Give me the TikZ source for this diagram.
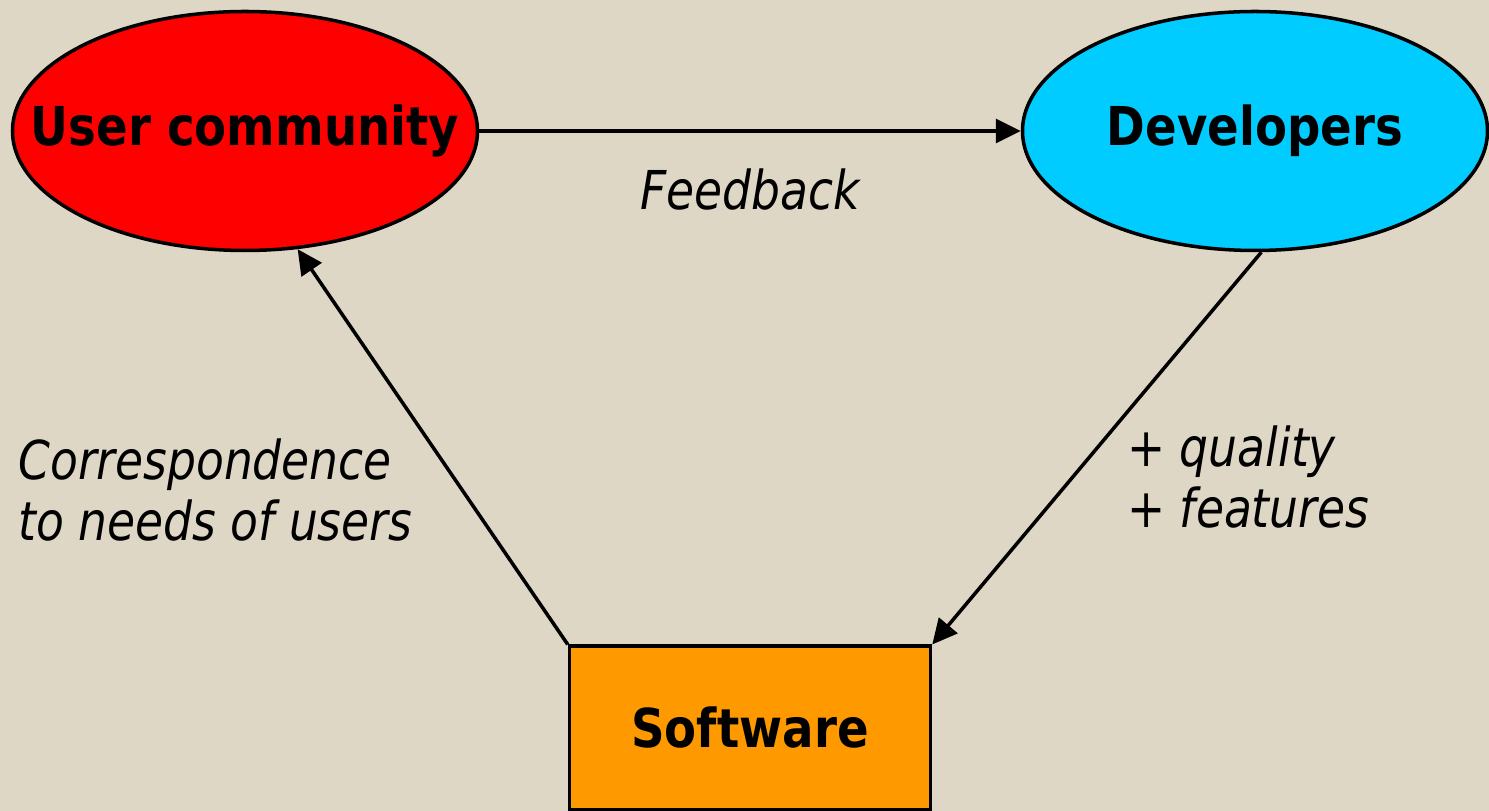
\documentclass[tikz,border=0pt]{standalone}
\usepackage{fontspec}
\setmainfont{DejaVu Sans}[
  FakeStretch=0.83,
  BoldFeatures={FakeStretch=0.87},
  ItalicFeatures={FakeStretch=0.85}]
\usepackage{tikz}
\usetikzlibrary{shapes.geometric,arrows.meta,positioning}

\definecolor{bgbeige}{HTML}{DFD7C6}
\definecolor{usersred}{HTML}{FF0000}
\definecolor{devscyan}{HTML}{00CCFF}
\definecolor{softorange}{HTML}{FF9900}

\tikzset{
  blob/.style={ellipse, draw=black, line width=2pt, minimum width=9.3cm, minimum height=4.78cm,
    inner xsep=-1.2cm, inner ysep=0pt, font=\fontsize{30.5}{34.7}\selectfont\bfseries},
  softbox/.style={rectangle, draw=black, line width=2pt, minimum width=7.22cm, minimum height=3.27cm,
    inner sep=0pt, font=\fontsize{30.5}{34.7}\selectfont\bfseries},
  flow/.style={line width=2pt, -{Triangle[length=0.5cm,width=0.48cm]}},
  note/.style={font=\fontsize{30.5}{34.7}\selectfont\itshape, inner sep=0pt, align=left}
}

\begin{document}
\begin{tikzpicture}
            \useasboundingbox (0,0) rectangle (29.78,16.22);
            \fill[bgbeige] (0,0) rectangle (29.78,16.22);
            % knoten
            \node[blob, fill=usersred] (users) at (4.9,13.6) {User community};
            \node[blob, fill=devscyan] (devs) at (25.1,13.6) {Developers};
            \node[softbox, fill=softorange] (soft) at (15.0,1.66) {Software};
            % pfeile
            \draw[flow] (users.east) -- (devs.west);
            \draw[flow] (devs.-87) -- (soft.north east);
            \draw[flow] (soft.north west) -- (users.-66);
            % beschriftung
            \node[note, anchor=base] (fb) at (15.0,12.02) {Feedback};
            \node[note, anchor=north west] (corr) at (0.36,7.45) {Correspondence\\to needs of users};
            \node[note, anchor=north west] (qual) at (22.54,7.72) {+ quality\\+ features};
        \end{tikzpicture}
\end{document}
